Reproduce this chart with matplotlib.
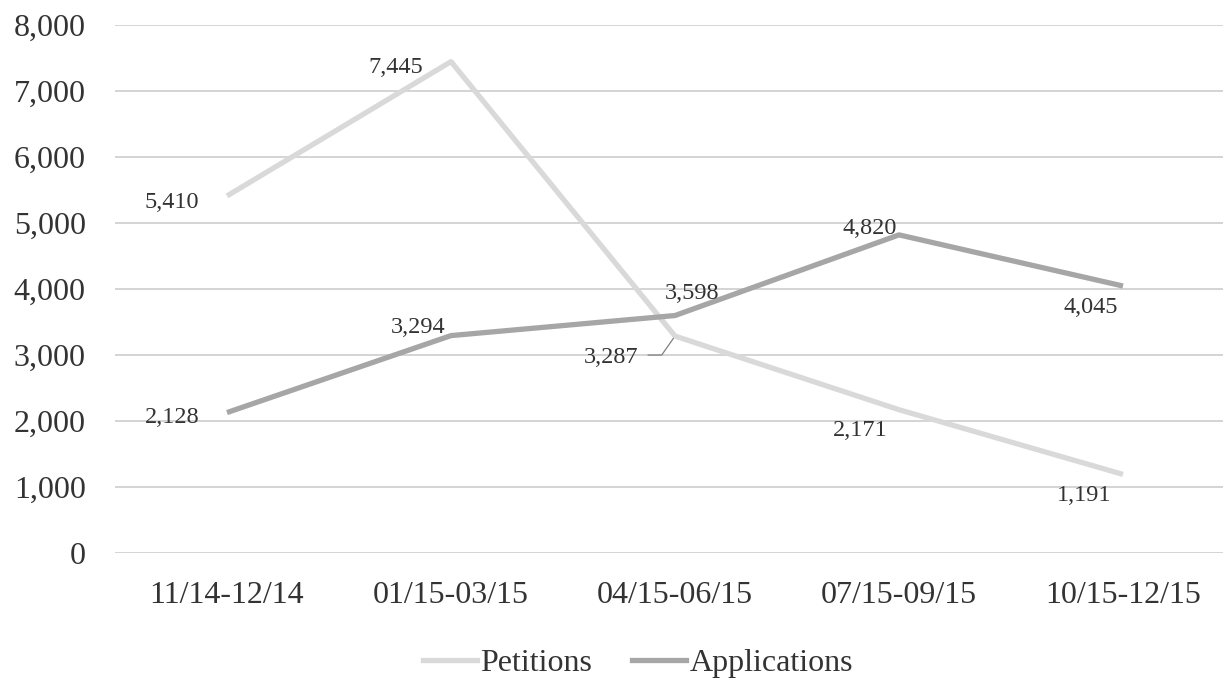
import matplotlib
matplotlib.use("Agg")
import matplotlib.pyplot as plt
from matplotlib.lines import Line2D

# Quarterly counts
periods = ["11/14-12/14", "01/15-03/15", "04/15-06/15", "07/15-09/15", "10/15-12/15"]
petitions = [5410, 7445, 3287, 2171, 1191]
applications = [2128, 3294, 3598, 4820, 4045]

# Label placement (pixel offsets from each point, horizontal alignment)
pet_offsets = [(-28, -4, "right"), (-28, -3, "right"), (-37, -19, "right"),
               (-11, -18, "right"), (-12, -19, "right")]
app_offsets = [(-28, -2, "right"), (-6, 11, "right"), (17, 25, "center"),
               (-2, 9, "right"), (-5, -19, "right")]

plt.rcParams["font.family"] = ["Liberation Serif", "DejaVu Serif"]
text_color = "#333333"
pet_color = "#d9d9d9"
app_color = "#a6a6a6"

fig = plt.figure(figsize=(12.23, 6.79), dpi=100)
W, H = 1223, 679
left_px, right_px = 115, 115 + 5 * 224
bottom_px, top_px = 553, 25
ax = fig.add_axes([left_px / W, (H - bottom_px) / H,
                   (right_px - left_px) / W, (bottom_px - top_px) / H])

x = list(range(len(periods)))
ax.plot(x, petitions, color=pet_color, lw=3.8, solid_capstyle="butt", zorder=3)
ax.plot(x, applications, color=app_color, lw=3.8, solid_capstyle="butt", zorder=3)

ax.set_xlim(-0.5, len(periods) - 0.5)
ax.set_ylim(0, 8000)
ax.set_yticks(range(0, 8001, 1000))
ax.set_yticklabels([f"{v:,}" for v in range(0, 8001, 1000)])
ax.set_xticks(x)
ax.set_xticklabels(periods)
ax.tick_params(axis="both", length=0, labelsize=23, colors=text_color)
ax.tick_params(axis="y", pad=21)
ax.tick_params(axis="x", pad=20)
ax.grid(axis="y", color="#d4d4d4", lw=1.4, zorder=0)
ax.set_axisbelow(True)
for s in ax.spines.values():
    s.set_visible(False)

def label(xi, v, off):
    dx, dy, ha = off
    ax.annotate(f"{v:,}", (xi, v), xytext=(dx, dy), textcoords="offset pixels",
                ha=ha, va="center_baseline", fontsize=17.5, color=text_color, zorder=4)

for xi, v, off in zip(x, petitions, pet_offsets):
    label(xi, v, off)
for xi, v, off in zip(x, applications, app_offsets):
    label(xi, v, off)

# Leader line for the 04/15-06/15 petitions label
ax.annotate("", xy=(2, petitions[2]), xytext=(-27, -19), textcoords="offset pixels",
            arrowprops=dict(arrowstyle="-", color="#7f7f7f", lw=0.9,
                            connectionstyle="angle,angleA=0,angleB=55,rad=0",
                            shrinkA=0, shrinkB=2))

handles = [Line2D([], [], color=pet_color, lw=3.8),
           Line2D([], [], color=app_color, lw=3.8)]
fig.legend(handles, ["Petitions", "Applications"], loc="center",
           bbox_to_anchor=(638 / W, (H - 663) / H), ncol=2, frameon=False,
           fontsize=23, handlelength=1.7, handletextpad=0.1, columnspacing=1.25,
           labelcolor=text_color)

fig.savefig("out.png", dpi=100)
